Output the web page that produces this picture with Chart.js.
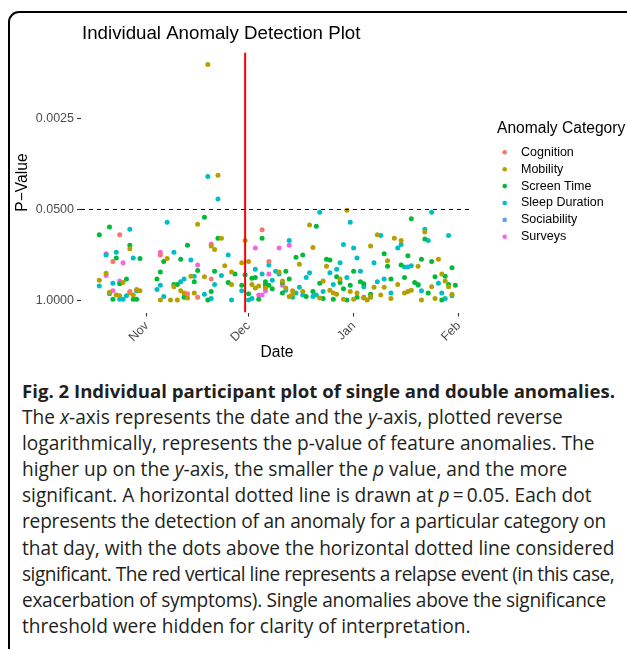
<!DOCTYPE html>
<html>
<head>
<meta charset="utf-8">
<script src="https://cdn.jsdelivr.net/npm/chart.js@4.4.0/dist/chart.umd.min.js"></script>
<style>
  html, body { margin: 0; padding: 0; background: #fff; }
  body { width: 627px; height: 649px; position: relative; overflow: hidden; }
  #frame {
    position: absolute; left: 8px; top: 11px; width: 660px; height: 700px;
    border: 2px solid #000; border-radius: 11px; box-sizing: border-box;
  }
  #chart { position: absolute; left: 0; top: 0; }
  #caption {
    position: absolute; left: 22px; top: 378px; width: 600px;
    font-family: "Open Sans", sans-serif;
    font-size: 19.1px; line-height: 26.1px; color: #231f20; white-space: nowrap;
  }
  #caption b { font-weight: bold; font-size: 18.6px; }
  .tight1 { letter-spacing: -0.2px; }
  .tight2 { letter-spacing: -0.5px; }
  .tight3 { letter-spacing: -0.3px; }
</style>
</head>
<body>
<div id="frame"></div>
<canvas id="chart" width="627" height="370"></canvas>
<div id="caption">
<b>Fig. 2 Individual participant plot of single and double anomalies.</b><br>
The <i>x</i>-axis represents the date and the <i>y</i>-axis, plotted reverse<br>
logarithmically, represents the p-value of feature anomalies. The<br>
higher up on the <i>y</i>-axis, the smaller the <i>p</i> value, and the more<br>
significant. A horizontal dotted line is drawn at <i>p</i>&thinsp;=&thinsp;0.05. Each dot<br>
<span class="tight1">represents the detection of an anomaly for a particular category on</span><br>
that day, with the dots above the horizontal dotted line considered<br>
<span class="tight2">significant. The red vertical line represents a relapse event (in this case,</span><br>
<span class="tight3">exacerbation of symptoms). Single anomalies above the significance</span><br>
threshold were hidden for clarity of interpretation.
</div>
<script>
// x = days from 1 Nov, y = -log10(p-value)
const categories = ['Cognition', 'Mobility', 'Screen Time', 'Sleep Duration', 'Sociability', 'Surveys'];
const categoryColors = ['#F8766D', '#B79F00', '#00BA38', '#00BFC4', '#619CFF', '#F564E3'];

const cognition = [[-10,0.56],[-8,0.94],[-5,0.13],[4,0.65],[12,0.10],[15,0.05],[19,0.31],[34,1.01],[36,0.56]];

const mobility = [
  [-14,0.29],[-12,0.39],[-11,0.12],[-9,0.08],[-8,0.07],[-7,0.26],[-5,0.74],[-5,0.11],[-4,0.08],[-3,0.16],[-2,0.14],
  [4,0.01],[6,0.60],[7,0.01],[8,0.20],[9,0.01],[10,0.14],[11,0.11],[12,0.04],[13,0.35],[14,0.11],[15,1.09],[17,0.34],
  [18,3.37],[19,0.78],[20,0.73],[21,1.79],[22,0.89],[23,0.50],[25,0.41],[25,0.23],[28,0.54],[29,0.86],
  [30,0.56],[31,0.23],[32,0.18],[33,0.21],[35,0.18],[39,0.41],[40,0.28],[41,0.18],[42,0.06],[43,0.14],[43,0.09],
  [45,0.52],[46,0.13],[48,1.08],[49,0.76],[51,0.04],
  [52,0.28],[53,0.49],[54,0.15],[55,0.11],[56,0.09],[57,0.31],[58,0.02],[59,1.29],[60,0.13],[61,0.02],[62,0.11],
  [64,0.04],[65,0.01],[66,0.78],[66,0.06],[67,0.19],[68,0.94],[69,0.08],[70,0.19],[71,0.57],[72,0.03],[73,0.89],[74,0.23],
  [75,0.86],[76,0.11],[77,0.13],[78,0.15],[80,0.49],[81,0.01],[82,0.98],[84,0.20],[85,0.03],[86,0.59],[87,0.38],
  [88,0.28],[89,0.20],[90,0.09]
];

const screenTime = [
  [-14,0.94],[-11,1.05],[-10,0.02],[-9,0.61],[-8,0.24],[-6,0.31],[-5,0.79],[-4,0.02],[-3,0.02],[-2,0.60],
  [3,0.31],[4,0.41],[5,0.56],[8,0.23],[9,0.23],[10,0.59],[11,0.05],[12,0.79],[14,0.27],[15,0.43],[17,1.19],[18,0.01],
  [19,0.13],[20,0.42],[21,0.89],[24,0.26],[26,0.38],[28,0.22],[29,0.37],
  [30,0.10],[31,0.32],[32,0.33],[33,0.02],[34,0.89],[35,0.27],[35,0.23],[36,0.22],[37,0.17],[40,0.26],[40,0.11],
  [41,0.42],[42,0.31],[44,0.62],[46,0.65],[47,0.06],[49,0.13],[50,1.06],[51,0.25],
  [52,0.03],[53,0.59],[54,0.58],[55,0.02],[56,0.34],[57,0.26],[58,0.17],[59,0.01],[60,0.22],[61,0.42],[62,0.05],
  [63,0.27],[64,0.24],[66,0.09],[70,0.67],[71,0.49],[72,0.31],
  [75,0.51],[76,0.33],[77,0.64],[78,1.17],[79,0.26],[80,0.23],[81,0.59],[82,0.88],[83,0.11],[84,0.56],[85,0.34],
  [87,0.01],[88,0.35],[89,0.23],[90,0.47],[91,0.22]
];

const sleepDuration = [
  [-14,0.21],[-12,0.65],[-11,0.10],[-10,0.25],[-9,0.69],[-8,0.02],[-7,0.02],[-6,0.07],[-5,1.02],[-4,0.61],[-3,0.14],
  [3,0.16],[4,0.22],[5,0.06],[6,1.12],[8,0.69],[10,0.27],[11,0.31],[13,0.58],[14,0.35],[17,0.09],[18,1.77],[19,0.03],
  [20,0.23],[21,1.45],[22,0.36],[24,0.65],[25,0.01],[28,0.14],
  [30,0.01],[31,0.03],[32,0.45],[34,0.38],[35,0.20],[36,0.51],[37,0.29],[38,0.42],[39,0.38],[41,0.15],[42,0.86],
  [43,0.05],[44,0.11],[45,0.19],[46,0.08],[47,0.33],[48,0.40],[49,0.06],[50,0.08],[51,1.26],
  [52,0.13],[54,0.40],[55,0.23],[56,0.45],[57,0.54],[58,0.80],[59,0.33],[60,1.12],[61,0.75],[62,0.61],[63,0.42],
  [64,0.20],[64,0.05],[66,0.05],[67,0.54],[68,0.27],[69,0.93],[70,0.31],[72,0.11],[74,0.75],
  [75,0.80],[76,0.48],[77,0.48],[78,0.50],[80,0.22],[81,0.14],[82,1.02],[83,0.86],[84,1.26],[86,0.25],[87,0.11],
  [88,0.03],[89,0.93],[90,0.07]
];

const sociability = [];

const surveys = [
  [-12,0.67],[-12,0.36],[-10,0.14],[-8,0.28],[-7,0.54],[4,0.69],[15,0.51],[19,0.81],
  [32,0.75],[33,0.08],[34,0.08],[35,0.14],[36,0.38],[39,0.75],[40,0.22],[42,0.79]
];

const seriesPoints = [cognition, mobility, screenTime, sleepDuration, sociability, surveys];

const monthTicks = [0, 30, 61, 92];
const monthLabels = ['Nov', 'Dec', 'Jan', 'Feb'];
const pTicks = [1, 0.05, 0.0025];
const pTickLabels = ['1.0000', '0.0500', '0.0025'];
const relapseDay = 29;
const pThreshold = 0.05;
const xRange = [-19.4, 96.2];
const yRange = [-0.17, 3.54];

const plotTitle = 'Individual Anomaly Detection Plot';
const legendTitle = 'Anomaly Category';

const FONT = '"Liberation Sans", Arial, Helvetica, sans-serif';
const TICK_GREY = '#4D4D4D';

// Plot title and ggplot-style legend on the right
const titleLegendPlugin = {
  id: 'titleLegend',
  afterDraw(chart) {
    const ctx = chart.ctx;
    ctx.save();
    ctx.textBaseline = 'middle';
    ctx.textAlign = 'left';
    ctx.fillStyle = '#000';
    ctx.font = '18.7px ' + FONT;
    ctx.fillText(plotTitle, 82, 34);

    ctx.font = '15.6px ' + FONT;
    ctx.fillText(legendTitle, 497, 129);
    ctx.font = '12.5px ' + FONT;
    categories.forEach((name, i) => {
      const y = 152.3 + i * 16.9;
      ctx.beginPath();
      ctx.arc(504.7, y, 2.3, 0, Math.PI * 2);
      ctx.fillStyle = categoryColors[i];
      ctx.fill();
      ctx.fillStyle = '#000';
      ctx.fillText(name, 521, y);
    });
    ctx.restore();
  }
};

const scatterSets = categories.map((name, i) => ({
  label: name,
  data: seriesPoints[i].map(([x, y]) => ({ x, y })),
  backgroundColor: categoryColors[i],
  borderWidth: 0,
  pointRadius: 2.5,
  order: 1
}));

const thresholdY = -Math.log10(pThreshold);

const lineSets = [
  {
    label: 'threshold',
    data: [{ x: xRange[0], y: thresholdY }, { x: xRange[1], y: thresholdY }],
    showLine: true,
    borderColor: '#000',
    borderWidth: 1,
    borderDash: [4, 4],
    pointRadius: 0,
    order: 0
  },
  {
    label: 'relapse',
    data: [{ x: relapseDay, y: yRange[0] }, { x: relapseDay, y: yRange[1] }],
    showLine: true,
    borderColor: '#FF0000',
    borderWidth: 2,
    pointRadius: 0,
    order: 0
  }
];

new Chart(document.getElementById('chart').getContext('2d'), {
  type: 'scatter',
  data: { datasets: [...lineSets, ...scatterSets] },
  options: {
    responsive: false,
    animation: false,
    events: [],
    layout: { padding: { top: 52.5, right: 154, left: 0, bottom: 0 } },
    plugins: {
      legend: { display: false },
      tooltip: { enabled: false },
      title: { display: false }
    },
    scales: {
      x: {
        type: 'linear',
        min: xRange[0],
        max: xRange[1],
        afterFit: (scale) => { scale.height = 370 - 312.6; },
        afterBuildTicks: (scale) => { scale.ticks = monthTicks.map(v => ({ value: v })); },
        ticks: {
          autoSkip: false,
          minRotation: 45,
          maxRotation: 45,
          padding: 2,
          color: TICK_GREY,
          font: { family: FONT, size: 12.5 },
          callback: (value) => monthLabels[monthTicks.indexOf(value)]
        },
        grid: { drawOnChartArea: false, tickLength: 4, tickColor: '#333', tickWidth: 1.1 },
        border: { display: false },
        title: {
          display: true,
          text: 'Date',
          color: '#000',
          font: { family: FONT, size: 15.6 },
          padding: { top: 0, bottom: 8 }
        }
      },
      y: {
        type: 'linear',
        min: yRange[0],
        max: yRange[1],
        afterFit: (scale) => { scale.width = 81; },
        afterBuildTicks: (scale) => { scale.ticks = pTicks.map(p => ({ value: -Math.log10(p) })); },
        ticks: {
          autoSkip: false,
          padding: 3,
          color: TICK_GREY,
          font: { family: FONT, size: 12.5 },
          callback: (value, index) => pTickLabels[index]
        },
        grid: { drawOnChartArea: false, tickLength: 4, tickColor: '#333', tickWidth: 1.1 },
        border: { display: false },
        title: {
          display: true,
          text: 'P\u2212Value',
          color: '#000',
          font: { family: FONT, size: 15.6 },
          padding: { top: 13, bottom: 0 }
        }
      }
    }
  },
  plugins: [titleLegendPlugin]
});
</script>
</body>
</html>
